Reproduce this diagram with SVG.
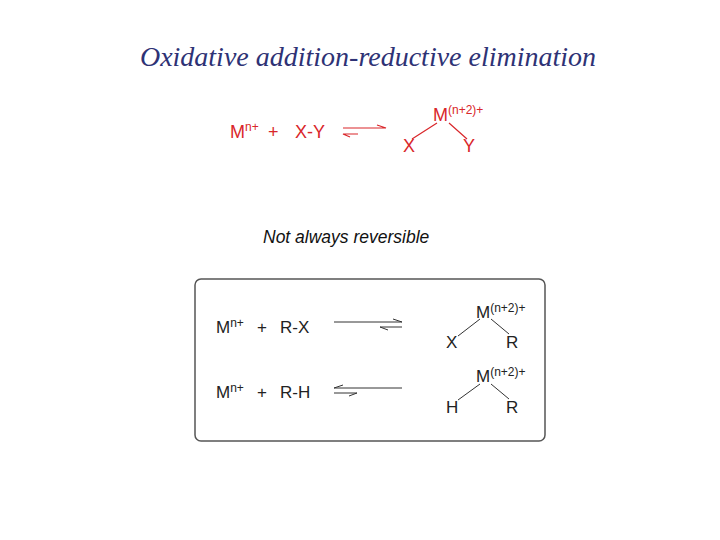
<svg xmlns="http://www.w3.org/2000/svg" width="720" height="540" viewBox="0 0 720 540">
<style>
.t{font-family:"Liberation Sans",Arial,sans-serif}
.r{fill:#d9262a;font-size:18px}
.k{fill:#222;font-size:17px}
.s{font-size:12px}
.lr{stroke:#d9262a;stroke-width:1.2;fill:none}
.lk{stroke:#333;stroke-width:1;fill:none}
</style>
<rect width="720" height="540" fill="#fff"/>
<text x="368" y="66" text-anchor="middle" font-family="Liberation Serif,serif" font-style="italic" font-size="28" fill="#2e3275">Oxidative addition-reductive elimination</text>
<g id="eq1">
<text class="t r" x="230" y="138">M<tspan class="s" dy="-7">n+</tspan></text>
<text class="t r" x="268" y="138">+</text>
<text class="t r" x="295" y="138">X-Y</text>
<text class="t r" x="433" y="121">M<tspan class="s" dy="-7">(n+2)+</tspan></text>
<text class="t r" x="403" y="152">X</text>
<text class="t r" x="463" y="152">Y</text>
</g>
<g id="note"><text class="t" x="263" y="243" font-size="17.5" font-style="italic" fill="#111">Not always reversible</text></g>
<g id="box"><rect x="195" y="279" width="350" height="162" rx="6" fill="none" stroke="#555" stroke-width="1.5"/>
<text class="t k" x="216" y="333">M<tspan class="s" dy="-6">n+</tspan></text>
<text class="t k" x="257" y="333">+</text>
<text class="t k" x="280" y="333">R-X</text>
<text class="t k" x="476" y="318">M<tspan class="s" dy="-6">(n+2)+</tspan></text>
<text class="t k" x="446" y="348">X</text>
<text class="t k" x="506" y="348">R</text>
<text class="t k" x="216" y="398">M<tspan class="s" dy="-6">n+</tspan></text>
<text class="t k" x="257" y="398">+</text>
<text class="t k" x="280" y="398">R-H</text>
<text class="t k" x="476" y="382">M<tspan class="s" dy="-6">(n+2)+</tspan></text>
<text class="t k" x="446" y="413">H</text>
<text class="t k" x="506" y="413">R</text>
</g>
<g id="connectors">
<path class="lr" d="M343 128H386l-9 -3"/>
<path class="lr" d="M358 134H343l7 3"/>
<path class="lr" d="M437 123L412 139M449 123L467 139"/>
<path class="lk" d="M334 322H402l-9 -3"/>
<path class="lk" d="M402 327H380l8 3"/>
<path class="lk" d="M402 388H334l9 -3"/>
<path class="lk" d="M334 393H357l-8 3"/>
<path class="lk" d="M480 319L458 336M491 319L509 334"/>
<path class="lk" d="M480 384L458 400M491 384L509 399"/>
</g>
</svg>
